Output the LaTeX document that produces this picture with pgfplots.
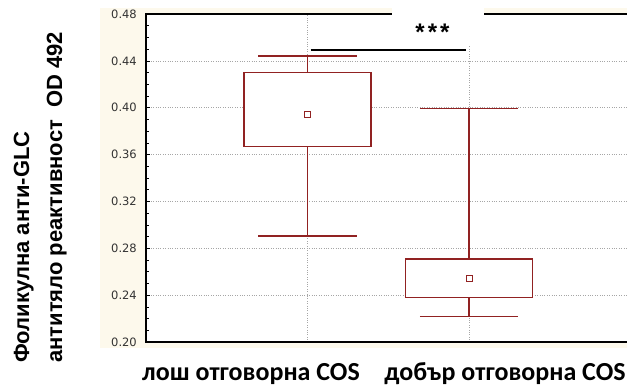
\documentclass[border=0pt]{standalone}
\usepackage{fontspec}
\setmainfont{Liberation Sans}
\newfontfamily\calib{Carlito}
\newfontfamily\dejavu{DejaVu Sans}
\usepackage{pgfplots}
\pgfplotsset{compat=1.18}
\definecolor{boxred}{HTML}{912222}
\definecolor{beige}{HTML}{FDF9EC}
\begin{document}
\begin{tikzpicture}[x=1pt,y=1pt]
\fill[beige] (100,39) rectangle (627,379);
\begin{axis}[
  at={(146pt,45pt)}, anchor=south west,
  scale only axis, width=484.5pt, height=328pt,
  xmin=0, xmax=3, ymin=0.2, ymax=0.48,
  axis background/.style={fill=white},
  xtick={1,2}, xticklabels={},
  xtick style={draw=none},
  ytick={0.20,0.24,0.28,0.32,0.36,0.40,0.44,0.48},
  yticklabels={0.20,0.24,0.28,0.32,0.36,0.40,0.44,0.48},
  yticklabel style={font=\dejavu\fontsize{11.5}{12}\selectfont, text=black!80, inner sep=0pt, xshift=-9pt},
  minor y tick num=3,
  tick align=inside,
  ytick pos=left,
  major tick length=4pt, minor tick length=3pt,
  tick style={black, line width=0.6pt},
  grid=major,
  major grid style={dotted, black!35, line width=0.7pt},
  axis line style={line width=1.3pt},
  clip=false,
  every axis plot/.append style={line join=miter},
]
% group 1: whiskers, caps, box (Q1, Q3)
\addplot[color=boxred, line width=1.4pt] coordinates {(1,0.430) (1,0.444)};
\addplot[color=boxred, line width=1.4pt] coordinates {(1,0.367) (1,0.2906)};
\addplot[color=boxred, line width=1.4pt] coordinates {(0.6965,0.444) (1.3035,0.444)};
\addplot[color=boxred, line width=1.4pt] coordinates {(0.6965,0.2906) (1.3035,0.2906)};
\addplot[color=boxred, fill=white, line width=1.4pt] coordinates {(0.607,0.367) (1.393,0.367) (1.393,0.430) (0.607,0.430)} -- cycle;
% group 2
\addplot[color=boxred, line width=1.4pt] coordinates {(2,0.271) (2,0.3995)};
\addplot[color=boxred, line width=1.4pt] coordinates {(2,0.238) (2,0.2217)};
\addplot[color=boxred, line width=1.4pt] coordinates {(1.6965,0.3995) (2.3035,0.3995)};
\addplot[color=boxred, line width=1.4pt] coordinates {(1.6965,0.2217) (2.3035,0.2217)};
\addplot[color=boxred, fill=white, line width=1.4pt] coordinates {(1.607,0.238) (2.393,0.238) (2.393,0.271) (1.607,0.271)} -- cycle;
% medians
\addplot[only marks, mark=square, mark size=3pt, color=boxred, line width=1pt]
  coordinates {(1,0.3946) (2,0.2546)};
\addplot[black, line width=2pt] coordinates {(1.02,0.449) (1.98,0.449)};
\end{axis}
\fill[white] (392,342) rectangle (484,387);
\node[font=\bfseries\fontsize{24}{26}\selectfont] at (432.5,355) {*\kern3pt*\kern3pt*};
\node[rotate=90, anchor=base west, inner sep=0pt, font=\bfseries\fontsize{22}{26}\selectfont] at (29,24) {Фоликулна анти-GLC};
\node[rotate=90, anchor=base west, inner sep=0pt, font=\bfseries\fontsize{22}{26}\selectfont] at (62,24) {антитяло реактивност~~OD 492};
\node[anchor=base, inner sep=0pt, font=\calib\bfseries\fontsize{26}{28}\selectfont] at (251,6) {лош отговорна COS};
\node[anchor=base, inner sep=0pt, font=\calib\bfseries\fontsize{26}{28}\selectfont] at (505,6) {добър отговорна COS};
\pgfresetboundingbox
\path[use as bounding box] (0,0) rectangle (627,387);
\end{tikzpicture}
\end{document}
